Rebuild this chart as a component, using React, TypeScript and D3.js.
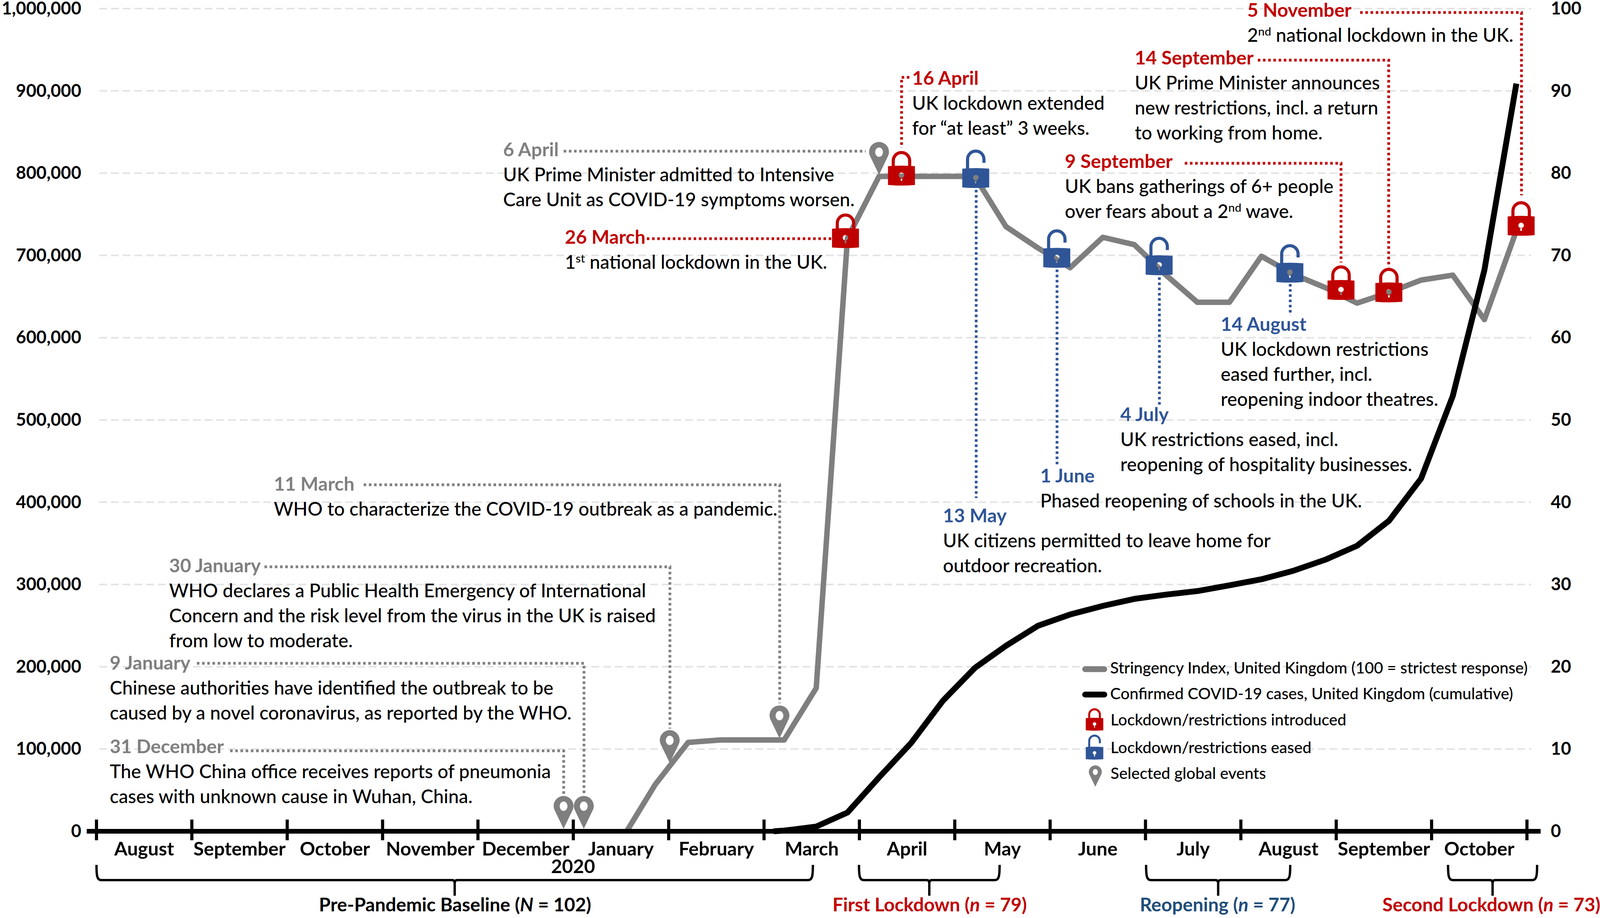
import React from "react";
import * as d3 from "d3";

// ---------- data ----------
const monthLabels = ["August","September","October","November","December","January","February","March","April","May","June","July","August","September","October"];
const leftTicks = [0,100000,200000,300000,400000,500000,600000,700000,800000,900000,1000000];
const rightTicks = [0,10,20,30,40,50,60,70,80,90,100];

const stringencyMonths = [5.56,5.86,6.204,6.544,6.88,7.211,7.547,7.875,8.206,8.54,8.875,9.21,9.537,9.873,10.209,10.553,10.884,11.216,11.544,11.88,12.215,12.551,12.883,13.219,13.554,13.89,14.222,14.554,14.889];
const stringencyValues = [0,5.7,10.8,11.1,11.1,11.1,17.4,72.1,79.6,79.6,79.6,79.6,73.5,70.9,68.5,72.2,71.3,67.6,64.3,64.3,69.9,67.7,66.1,64.2,65.5,67.0,67.6,62.2,73.0];

const caseMonths = [7.1,7.211,7.547,7.875,8.206,8.54,8.875,9.21,9.537,9.873,10.209,10.553,10.884,11.216,11.544,11.88,12.215,12.551,12.883,13.219,13.554,13.89,14.222,14.554,14.889];
const caseValues = [0,800,5700,22800,65500,107000,158600,198500,225500,249800,263500,274000,282500,287700,292000,299000,306300,316700,330000,347100,377500,428800,529000,682300,908800];

const lockClosedMonths = [7.854,8.441,13.05,13.552,14.939];
const lockClosedLevels = [72.1,79.7,65.8,65.5,73.6];
const lockOpenMonths = [9.22,10.07,11.143,12.514];
const lockOpenLevels = [79.4,69.7,68.8,67.9];
const pinMonths = [4.898,5.11,6.011,7.162,8.206];
const pinLevels = [0.3,0.3,8.3,11.3,79.8];

const RED = "#c00000", BLUE = "#2f5597", GREY = "#7f7f7f", NAVY = "#1f4e79";

type Line = string | [string, string, string];
const notes: { date: string; color: string; x: number; y: number; lines: Line[] }[] = [
  { date: "31 December", color: GREY, x: 281, y: 1928, lines: ["The WHO China office receives reports of pneumonia", "cases with unknown cause in Wuhan, China."] },
  { date: "9 January", color: GREY, x: 281, y: 1714, lines: ["Chinese authorities have identified the outbreak to be", "caused by a novel coronavirus, as reported by the WHO."] },
  { date: "30 January", color: GREY, x: 433, y: 1465, lines: ["WHO declares a Public Health Emergency of International", "Concern and the risk level from the virus in the UK is raised", "from low to moderate."] },
  { date: "11 March", color: GREY, x: 701, y: 1256, lines: ["WHO to characterize the COVID-19 outbreak as a pandemic."] },
  { date: "6 April", color: GREY, x: 1288, y: 400, lines: ["UK Prime Minister admitted to Intensive", "Care Unit as COVID-19 symptoms worsen."] },
  { date: "26 March", color: RED, x: 1446, y: 624, lines: [["1", "st", " national lockdown in the UK."]] },
  { date: "16 April", color: RED, x: 2335, y: 217, lines: ["UK lockdown extended", "for \u201Cat least\u201D 3 weeks."] },
  { date: "13 May", color: BLUE, x: 2414, y: 1337, lines: ["UK citizens permitted to leave home for", "outdoor recreation."] },
  { date: "1 June", color: BLUE, x: 2663, y: 1235, lines: ["Phased reopening of schools in the UK."] },
  { date: "4 July", color: BLUE, x: 2868, y: 1078, lines: ["UK restrictions eased, incl.", "reopening of hospitality businesses."] },
  { date: "14 August", color: BLUE, x: 3125, y: 847, lines: ["UK lockdown restrictions", "eased further, incl.", "reopening indoor theatres."] },
  { date: "9 September", color: RED, x: 2726, y: 430, lines: ["UK bans gatherings of 6+ people", ["over fears about a 2", "nd", " wave."]] },
  { date: "14 September", color: RED, x: 2905, y: 165, lines: ["UK Prime Minister announces", "new restrictions, incl. a return", "to working from home."] },
  { date: "5 November", color: RED, x: 3193, y: 43, lines: [["2", "nd", " national lockdown in the UK."]] },
];

const leaders: { color: string; pts: [number, number][] }[] = [
  { color: GREY, pts: [[589,1922],[1443,1922],[1443,2033]] },
  { color: GREY, pts: [[504,1698],[1495,1698],[1495,2033]] },
  { color: GREY, pts: [[677,1451],[1715,1451],[1715,1865]] },
  { color: GREY, pts: [[931,1241],[1996,1241],[1996,1800]] },
  { color: GREY, pts: [[1443,387],[2216,387]] },
  { color: RED, pts: [[1656,611],[2131,611]] },
  { color: RED, pts: [[2328,198],[2308,198],[2308,378]] },
  { color: BLUE, pts: [[2499,486],[2499,1275]] },
  { color: BLUE, pts: [[2706,690],[2706,1194]] },
  { color: BLUE, pts: [[2968,710],[2968,1036]] },
  { color: BLUE, pts: [[3303,727],[3303,807]] },
  { color: RED, pts: [[3033,418],[3433,418],[3433,672]] },
  { color: RED, pts: [[3220,154],[3555,154],[3555,684]] },
  { color: RED, pts: [[3482,32],[3895,32],[3895,500]] },
];

const braces: { x0: number; x1: number; label: string; n: string; val: string; color: string; cx: number }[] = [
  { x0: 247, x1: 2081, label: "Pre-Pandemic Baseline (", n: "N", val: " = 102)", color: "#000", cx: 1165 },
  { x0: 2199, x1: 2559, label: "First Lockdown (", n: "n", val: " = 79)", color: RED, cx: 2380 },
  { x0: 2934, x1: 3303, label: "Reopening (", n: "n", val: " = 77)", color: NAVY, cx: 3117 },
  { x0: 3707, x1: 3935, label: "Second Lockdown (", n: "n", val: " = 73)", color: RED, cx: 3818 },
];

// ---------- layout ----------
const W = 4115, H = 2350;
const FONT = "Lato, Carlito, Calibri, sans-serif";
const BODY = 47.9, BOLD = 48.6, BRACE = 48, TICK = 45, LEG = 40.6;
const x = d3.scaleLinear().domain([0, 15]).range([247, 3909]);
const yL = d3.scaleLinear().domain([0, 1000000]).range([2128, 22]);
const yR = d3.scaleLinear().domain([0, 100]).range([2128, 22]);
const fmt = d3.format(",");

const stringencyPath = d3.line<number>().x((_, i) => x(stringencyMonths[i])).y((v) => yR(v)).curve(d3.curveLinear)(stringencyValues)!;
const casePath = d3.line<number>().x((_, i) => x(caseMonths[i])).y((v) => yL(v)).curve(d3.curveLinear)(caseValues)!;

const hole = (s: number) => {
  const r = 7 * s;
  return `M${-r} ${-1 * s}a${r} ${r} 0 1 0 ${2 * r} 0a${r} ${r} 0 1 0 ${-2 * r} 0ZM${-2 * s} ${5 * s}V${13 * s}H${2 * s}V${5 * s}Z`;
};

function Lock({ cx, cy, open, s = 1 }: { cx: number; cy: number; open: boolean; s?: number }) {
  const color = open ? BLUE : RED;
  const top = open ? -73 : -63;
  const shackle = open
    ? `M-21 -22V${top + 25}A21 21 0 0 1 21 ${top + 25}V-39`
    : `M-21 -22V${top + 25}A21 21 0 0 1 21 ${top + 25}V-22`;
  const body = `M-34.5 -24Q0 -27 34.5 -24V24Q0 27 -34.5 24Z`;
  return (
    <g transform={`translate(${cx},${cy}) scale(${s})`}>
      <path d={shackle} fill="none" stroke={color} strokeWidth={8} />
      <path d={body + hole(1)} fill={color} fillRule="evenodd" />
    </g>
  );
}

function Pin({ cx, tip, s = 1 }: { cx: number; tip: number; s?: number }) {
  return (
    <g transform={`translate(${cx},${tip}) scale(${s})`}>
      <path
        d="M0 0L-24 -50A25.5 25.5 0 1 1 24 -50ZM-10 -58a10 12 0 1 0 20 0a10 12 0 1 0 -20 0Z"
        fill={GREY}
        fillRule="evenodd"
      />
    </g>
  );
}

function BodyLine({ line, x: tx, y }: { line: Line; x: number; y: number }) {
  if (typeof line === "string") return <text x={tx} y={y} fontSize={BODY} fontWeight={500} fill="#000">{line}</text>;
  return (
    <text x={tx} y={y} fontSize={BODY} fontWeight={500} fill="#000">
      {line[0]}
      <tspan dy={-16} fontSize={BODY * 0.62}>{line[1]}</tspan>
      <tspan dy={16}>{line[2]}</tspan>
    </text>
  );
}

export default function App() {
  return (
    <svg width={W} height={H} viewBox={`0 0 ${W} ${H}`} fontFamily={FONT}
      style={{ position: "absolute", left: 0, top: 0, background: "#fff" }}>
      {/* gridlines */}
      {leftTicks.slice(1).map((t) => (
        <line key={t} x1={254} x2={3920} y1={yL(t)} y2={yL(t)} stroke="#e3e3e3" strokeWidth={4} strokeDasharray="20 10" />
      ))}
      {/* axis tick labels */}
      {leftTicks.map((t) => (
        <text key={t} x={208} y={yL(t) + 15} textAnchor="end" fontSize={TICK} fontWeight={700} fill="#000">{fmt(t)}</text>
      ))}
      {rightTicks.map((t) => (
        <text key={t} x={3970} y={yR(t) + 15} fontSize={TICK} fontWeight={700} fill="#000">{t}</text>
      ))}
      {/* annotation text */}
      {notes.map((n) => (
        <g key={n.date}>
          <text x={n.x} y={n.y} fontSize={BOLD} fontWeight={700} fill={n.color}>{n.date}</text>
          {n.lines.map((l, i) => <BodyLine key={i} line={l} x={n.x} y={n.y + 64 * (i + 1)} />)}
        </g>
      ))}
      {/* leaders */}
      {leaders.map((l, i) => (
        <path key={i} d={d3.line()(l.pts)!} fill="none" stroke={l.color} strokeWidth={7} strokeDasharray="6.5 6.8" />
      ))}
      {/* series */}
      <path d={stringencyPath} fill="none" stroke={GREY} strokeWidth={14} strokeLinejoin="round" />
      <path d={casePath} fill="none" stroke="#000" strokeWidth={15} strokeLinejoin="round" strokeLinecap="butt" />
      {/* x axis */}
      <line x1={222} x2={3944} y1={2128} y2={2128} stroke="#000" strokeWidth={12} />
      {d3.range(16).map((i) => (
        <line key={i} x1={x(i)} x2={x(i)} y1={2098} y2={2151} stroke="#000" strokeWidth={8} />
      ))}
      {monthLabels.map((m, i) => (
        <text key={i} x={x(i + 0.5)} y={2190} textAnchor="middle" fontSize={BOLD} fontWeight={700} fill="#000">{m}</text>
      ))}
      <text x={1467} y={2235} textAnchor="middle" fontSize={BOLD} fontWeight={700} fill="#000">2020</text>
      {/* markers */}
      {pinMonths.map((m, i) => <Pin key={i} cx={x(m)} tip={yR(pinLevels[i])} />)}
      {lockClosedMonths.map((m, i) => <Lock key={i} cx={x(m)} cy={yR(lockClosedLevels[i])} open={false} />)}
      {lockOpenMonths.map((m, i) => <Lock key={i} cx={x(m)} cy={yR(lockOpenLevels[i])} open />)}
      {/* braces */}
      {braces.map((b) => {
        const mid = (b.x0 + b.x1) / 2;
        return (
          <g key={b.label}>
            <path
              d={`M${b.x0} 2214C${b.x0} 2240 ${b.x0 + 1} 2253 ${b.x0 + 12} 2253H${mid - 6}C${mid - 2} 2253 ${mid} 2256 ${mid} 2262V2293M${mid} 2262C${mid} 2256 ${mid + 2} 2253 ${mid + 6} 2253H${b.x1 - 12}C${b.x1 - 1} 2253 ${b.x1} 2240 ${b.x1} 2214`}
              fill="none" stroke="#000" strokeWidth={6}
            />
            <text x={b.cx} y={2333} textAnchor="middle" fontSize={BRACE} fontWeight={700} fill={b.color}>
              {b.label}<tspan fontStyle="italic">{b.n}</tspan>{b.val}
            </text>
          </g>
        );
      })}
      {/* legend */}
      <line x1={2778} x2={2827} y1={1713} y2={1713} stroke={GREY} strokeWidth={15} strokeLinecap="round" />
      <line x1={2778} x2={2827} y1={1778} y2={1778} stroke="#000" strokeWidth={15} strokeLinecap="round" />
      <text x={2842} y={1724} fontSize={LEG} fontWeight={500}>Stringency Index, United Kingdom (100 = strictest response)</text>
      <text x={2842} y={1790} fontSize={LEG} fontWeight={500}>Confirmed COVID-19 cases, United Kingdom (cumulative)</text>
      <Lock cx={2802} cy={1854} open={false} s={0.65} />
      <text x={2843} y={1857} fontSize={LEG} fontWeight={500}>Lockdown/restrictions introduced</text>
      <Lock cx={2802} cy={1928} open s={0.65} />
      <text x={2843} y={1928} fontSize={LEG} fontWeight={500}>Lockdown/restrictions eased</text>
      <Pin cx={2804} tip={2014} s={0.65} />
      <text x={2843} y={1994} fontSize={LEG} fontWeight={500}>Selected global events</text>
    </svg>
  );
}
